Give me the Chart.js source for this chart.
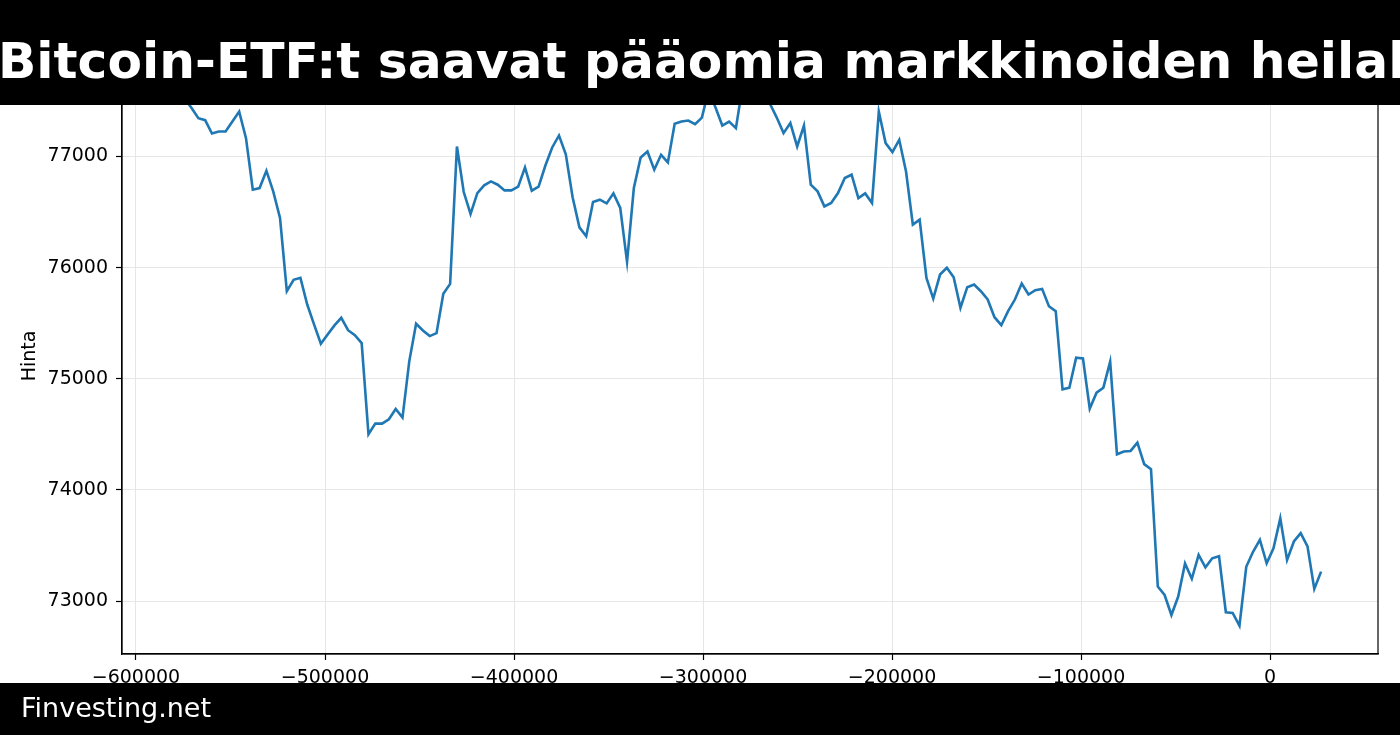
<!DOCTYPE html>
<html>
<head>
<meta charset="utf-8">
<script src="https://cdn.jsdelivr.net/npm/chart.js@4.4.1/dist/chart.umd.min.js"></script>
<style>
  html, body { margin: 0; padding: 0; background: #fff; }
  #wrap { position: relative; width: 1400px; height: 735px; }
</style>
</head>
<body>
<div id="wrap"><canvas id="chart"></canvas></div>
<script>
// hourly BTC price, seconds relative to "now"
const LAST_T = 27000;
const STEP_SEC = 3600;

const PRICE = [
  77600, 77520, 77437, 77345, 77327, 77207, 77225, 77225, 77314, 77404,
  77165, 76701, 76716, 76872, 76686, 76447, 75788, 75890, 75908, 75668,
  75489, 75315, 75399, 75480, 75549, 75437, 75393, 75321, 74501, 74597,
  74597, 74636, 74728, 74651, 75159, 75495, 75435, 75384, 75411, 75764,
  75854, 77090, 76680, 76483, 76671, 76740, 76776, 76746, 76695, 76695,
  76728, 76901, 76692, 76728, 76919, 77081, 77189, 77020, 76634, 76362,
  76282, 76591, 76611, 76578, 76668, 76537, 76052, 76716, 76991, 77045,
  76881, 77015, 76946, 77294, 77314, 77323, 77291, 77350, 77600, 77440,
  77278, 77314, 77255, 77640, 77590, 77620, 77550, 77475, 77350, 77210,
  77300, 77090, 77278, 76746, 76686, 76551, 76582, 76671, 76806, 76836,
  76626, 76668, 76582, 77404, 77120, 77040, 77150, 76865, 76387, 76432,
  75908, 75722, 75938, 75998, 75913, 75639, 75824, 75848, 75788, 75713,
  75554, 75482, 75608, 75713, 75857, 75758, 75797, 75809, 75653, 75608,
  74905, 74920, 75190, 75183, 74732, 74875, 74920, 75154, 74321, 74346,
  74351, 74426, 74232, 74187, 73131, 73055, 72875, 73041, 73339, 73201,
  73416, 73304, 73385, 73403, 72900, 72893, 72779, 73309, 73444, 73552,
  73340, 73475, 73744, 73370, 73536, 73612, 73493, 73110, 73265
];

const TIME_SEC = PRICE.map((_, i) => LAST_T - STEP_SEC * (PRICE.length - 1 - i));

const X_TICKS = [-600000, -500000, -400000, -300000, -200000, -100000, 0];
const Y_TICKS = [73000, 74000, 75000, 76000, 77000];

const TITLE = 'Bitcoin-ETF:t saavat pääomia markkinoiden heilahteluista';
const FOOTER = 'Finvesting.net';

const FONT = "'DejaVu Sans', sans-serif";
const fmt = v => (v < 0 ? '\u2212' : '') + Math.abs(v);

// frame + black title / footer bars drawn over the chart
const decor = {
  id: 'decor',
  afterDraw(chart) {
    const { ctx, chartArea: a } = chart;
    ctx.save();
    ctx.strokeStyle = '#000';
    ctx.lineWidth = 1.2;
    ctx.strokeRect(a.left, a.top, a.right - a.left, a.bottom - a.top);

    ctx.fillStyle = '#000';
    ctx.fillRect(0, 0, 1400, 105);
    ctx.fillRect(0, 683, 1400, 52);

    ctx.fillStyle = '#fff';
    ctx.textBaseline = 'alphabetic';
    ctx.textAlign = 'left';
    ctx.font = `bold 50.3px ${FONT}`;
    ctx.fillText(TITLE, -2, 78);
    ctx.font = `27px ${FONT}`;
    ctx.fillText(FOOTER, 21, 717);
    ctx.restore();
  },
};

new Chart(document.getElementById('chart'), {
  type: 'line',
  data: {
    datasets: [{
      data: TIME_SEC.map((t, i) => ({ x: t, y: PRICE[i] })),
      borderColor: '#1f77b4',
      borderWidth: 2.6,
      pointRadius: 0,
      tension: 0,
      fill: false,
    }],
  },
  options: {
    responsive: true,
    maintainAspectRatio: false,
    animation: false,
    layout: { padding: { top: 58, right: 22, bottom: 0, left: 0 } },
    plugins: { legend: { display: false }, tooltip: { enabled: false } },
    scales: {
      x: {
        type: 'linear',
        min: -607400,
        max: 57100,
        afterBuildTicks: s => { s.ticks = X_TICKS.map(v => ({ value: v })); },
        afterFit: s => { s.height = 81; },
        grid: { color: '#e6e6e6', lineWidth: 1, tickColor: '#000', tickLength: 6, tickWidth: 1.2 },
        border: { color: '#000', width: 1.2 },
        ticks: { color: '#000', font: { family: FONT, size: 19 }, padding: 7, maxRotation: 0, callback: fmt },
      },
      y: {
        min: 72524,
        max: 77886,
        afterBuildTicks: s => { s.ticks = Y_TICKS.map(v => ({ value: v })); },
        afterFit: s => { s.width = 122; },
        grid: { color: '#e6e6e6', lineWidth: 1, tickColor: '#000', tickLength: 6, tickWidth: 1.2 },
        border: { color: '#000', width: 1.2 },
        ticks: { color: '#000', font: { family: FONT, size: 19 }, padding: 8, callback: fmt },
        title: { display: true, text: 'Hinta', color: '#000', font: { family: FONT, size: 19 }, padding: { top: 19, bottom: 0 } },
      },
    },
  },
  plugins: [decor],
});
</script>
</body>
</html>
